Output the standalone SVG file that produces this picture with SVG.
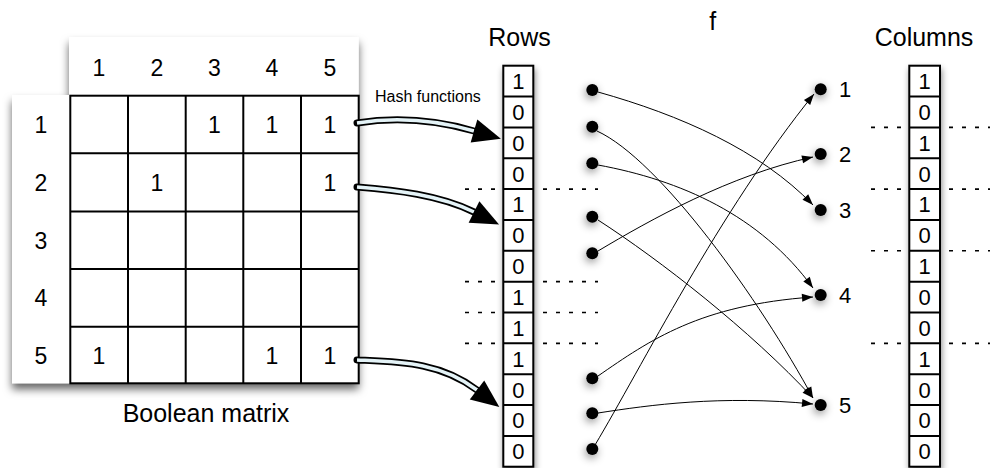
<svg xmlns="http://www.w3.org/2000/svg" width="995" height="468" viewBox="0 0 995 468">
<style>
text{font-family:"Liberation Sans",Arial,Helvetica,sans-serif;fill:#000}
.lbl{font-size:25px}
.dg{font-size:23px;text-anchor:middle}
.ad{font-size:22px;text-anchor:middle}
.rl{font-size:22px}
.grid{stroke:#000;stroke-width:2;fill:none}
.box{fill:#fff;stroke:#000;stroke-width:2}
.dot{fill:#000}
.dash{stroke:#000;stroke-width:1.6;stroke-dasharray:4 9;fill:none}
.conn{stroke:#000;stroke-width:1;fill:none;marker-end:url(#ah)}
.shaftO{stroke:#000;stroke-width:7;fill:none;stroke-linecap:round}
.shaftI{stroke:#e4f3f7;stroke-width:3.5;fill:none;marker-end:url(#bh)}
</style>
<defs>
<filter id="sh" x="-30%" y="-30%" width="160%" height="160%">
<feDropShadow dx="1" dy="4" stdDeviation="3" flood-color="#000" flood-opacity="0.45"/>
</filter>
<filter id="shm" x="-20%" y="-20%" width="140%" height="140%">
<feDropShadow dx="0" dy="6" stdDeviation="4.5" flood-color="#000" flood-opacity="0.6"/>
</filter>
<filter id="shd" x="-150%" y="-150%" width="400%" height="400%">
<feDropShadow dx="-1" dy="3" stdDeviation="4" flood-color="#000" flood-opacity="0.45"/>
</filter>
<marker id="ah" markerUnits="userSpaceOnUse" markerWidth="12" markerHeight="9" refX="11" refY="4" orient="auto" overflow="visible">
<path d="M0,0 L11,4 L0,8 z" fill="#000"/>
</marker>
<marker id="bh" markerUnits="userSpaceOnUse" markerWidth="30" markerHeight="26" refX="0" refY="12" orient="auto" overflow="visible">
<path d="M0,0 L28,12 L0,24 z" fill="#000"/>
</marker>
</defs>
<rect width="995" height="468" fill="#fff"/>

<g id="matrix">
<path d="M69,37 H358.7 V383.3 H12 V95 H69 Z" fill="#fff" filter="url(#shm)"/>
<g class="grid">
<rect x="70.3" y="95.7" width="288.4" height="287.6"/>
<path d="M128,95.7V383.3 M185.7,95.7V383.3 M243.3,95.7V383.3 M301,95.7V383.3 M70.3,153.3H358.7 M70.3,211.5H358.7 M70.3,269H358.7 M70.3,326.7H358.7"/>
</g>
<text class="dg" x="99" y="76">1</text>
<text class="dg" x="157" y="76">2</text>
<text class="dg" x="214.5" y="76">3</text>
<text class="dg" x="272" y="76">4</text>
<text class="dg" x="330" y="76">5</text>
<text class="dg" x="41" y="133">1</text>
<text class="dg" x="41" y="191">2</text>
<text class="dg" x="41" y="248.5">3</text>
<text class="dg" x="41" y="306">4</text>
<text class="dg" x="41" y="363.5">5</text>
<text class="dg" x="214.5" y="133">1</text>
<text class="dg" x="272" y="133">1</text>
<text class="dg" x="330" y="133">1</text>
<text class="dg" x="157" y="191">1</text>
<text class="dg" x="330" y="191">1</text>
<text class="dg" x="99" y="363.5">1</text>
<text class="dg" x="272" y="363.5">1</text>
<text class="dg" x="330" y="363.5">1</text>
<text class="lbl" x="206" y="421.5" text-anchor="middle">Boolean matrix</text>
</g>

<g id="hash-arrows">
<text x="375" y="101.5" style="font-size:16px">Hash functions</text>
<path class="shaftO" d="M357,123 C395,117 436,120 474,131"/>
<path class="shaftI" d="M357,123 C395,117 436,120 474,131"/>
<path class="shaftO" d="M357,187 C395,190 440,195 474,212"/>
<path class="shaftI" d="M357,187 C395,190 440,195 474,212"/>
<path class="shaftO" d="M357,360 C400,362 440,362 477,390"/>
<path class="shaftI" d="M357,360 C400,362 440,362 477,390"/>
</g>

<g id="dotted-lines">
<path class="dash" d="M465,189.1H598 M465,281.65H598 M465,312.5H598 M465,343.35H598"/>
<path class="dash" d="M871,127.4H990 M871,189.1H990 M871,250.8H990 M871,343.35H990"/>
</g>

<g id="rows-array">
<text class="lbl" x="519.5" y="46" text-anchor="middle">Rows</text>
<rect class="box" x="503.3" y="65.7" width="30" height="401" filter="url(#sh)"/>
<path class="grid" d="M503.3,96.55H533.3 M503.3,127.4H533.3 M503.3,158.25H533.3 M503.3,189.1H533.3 M503.3,219.95H533.3 M503.3,250.8H533.3 M503.3,281.65H533.3 M503.3,312.5H533.3 M503.3,343.35H533.3 M503.3,374.2H533.3 M503.3,405.05H533.3 M503.3,435.9H533.3"/>
<text class="ad" x="518.3" y="89">1</text>
<text class="ad" x="518.3" y="119.8">0</text>
<text class="ad" x="518.3" y="150.7">0</text>
<text class="ad" x="518.3" y="181.5">0</text>
<text class="ad" x="518.3" y="212.4">1</text>
<text class="ad" x="518.3" y="243.2">0</text>
<text class="ad" x="518.3" y="274.1">0</text>
<text class="ad" x="518.3" y="304.9">1</text>
<text class="ad" x="518.3" y="335.8">1</text>
<text class="ad" x="518.3" y="366.6">1</text>
<text class="ad" x="518.3" y="397.5">0</text>
<text class="ad" x="518.3" y="428.3">0</text>
<text class="ad" x="518.3" y="459.2">0</text>
</g>

<g id="columns-array">
<text class="lbl" x="924" y="46" text-anchor="middle">Columns</text>
<rect class="box" x="909.3" y="65.7" width="30.7" height="401" filter="url(#sh)"/>
<path class="grid" d="M909.3,96.55H940 M909.3,127.4H940 M909.3,158.25H940 M909.3,189.1H940 M909.3,219.95H940 M909.3,250.8H940 M909.3,281.65H940 M909.3,312.5H940 M909.3,343.35H940 M909.3,374.2H940 M909.3,405.05H940 M909.3,435.9H940"/>
<text class="ad" x="924.7" y="89">1</text>
<text class="ad" x="924.7" y="119.8">0</text>
<text class="ad" x="924.7" y="150.7">1</text>
<text class="ad" x="924.7" y="181.5">0</text>
<text class="ad" x="924.7" y="212.4">1</text>
<text class="ad" x="924.7" y="243.2">0</text>
<text class="ad" x="924.7" y="274.1">1</text>
<text class="ad" x="924.7" y="304.9">0</text>
<text class="ad" x="924.7" y="335.8">0</text>
<text class="ad" x="924.7" y="366.6">1</text>
<text class="ad" x="924.7" y="397.5">0</text>
<text class="ad" x="924.7" y="428.3">0</text>
<text class="ad" x="924.7" y="459.2">0</text>
</g>

<text class="lbl" x="712.7" y="30" text-anchor="middle">f</text>

<g id="connectors">
<path class="conn" d="M598,92 C680,115 760,150 813,205"/>
<path class="conn" d="M597,131 C660,160 760,300 813,398"/>
<path class="conn" d="M598,165 C680,180 760,215 813,288"/>
<path class="conn" d="M598,220 C660,260 750,330 813,398"/>
<path class="conn" d="M598,251 C650,220 730,175 813,157"/>
<path class="conn" d="M598,376 C650,340 700,305 813,297"/>
<path class="conn" d="M598,413 C650,405 720,395 813,404"/>
<path class="conn" d="M595,445 C640,370 720,210 814,94"/>
</g>

<g id="left-nodes" filter="url(#shd)">
<circle class="dot" cx="592.3" cy="90" r="6"/>
<circle class="dot" cx="592.3" cy="126.7" r="6"/>
<circle class="dot" cx="592.3" cy="163.3" r="6"/>
<circle class="dot" cx="592.3" cy="216.7" r="6"/>
<circle class="dot" cx="592.3" cy="253.3" r="6"/>
<circle class="dot" cx="592.3" cy="378.3" r="6"/>
<circle class="dot" cx="592.3" cy="413.3" r="6"/>
<circle class="dot" cx="592.3" cy="449" r="6"/>
</g>

<g id="right-nodes">
<g id="r1"><circle class="dot" cx="820.7" cy="89.3" r="6" filter="url(#shd)"/><text class="rl" x="839" y="97.3">1</text></g>
<g id="r2"><circle class="dot" cx="820.7" cy="154" r="6" filter="url(#shd)"/><text class="rl" x="839" y="162">2</text></g>
<g id="r3"><circle class="dot" cx="820.7" cy="210" r="6" filter="url(#shd)"/><text class="rl" x="839" y="218">3</text></g>
<g id="r4"><circle class="dot" cx="820.7" cy="295" r="6" filter="url(#shd)"/><text class="rl" x="839" y="303">4</text></g>
<g id="r5"><circle class="dot" cx="820.7" cy="405" r="6" filter="url(#shd)"/><text class="rl" x="839" y="413">5</text></g>
</g>
</svg>
